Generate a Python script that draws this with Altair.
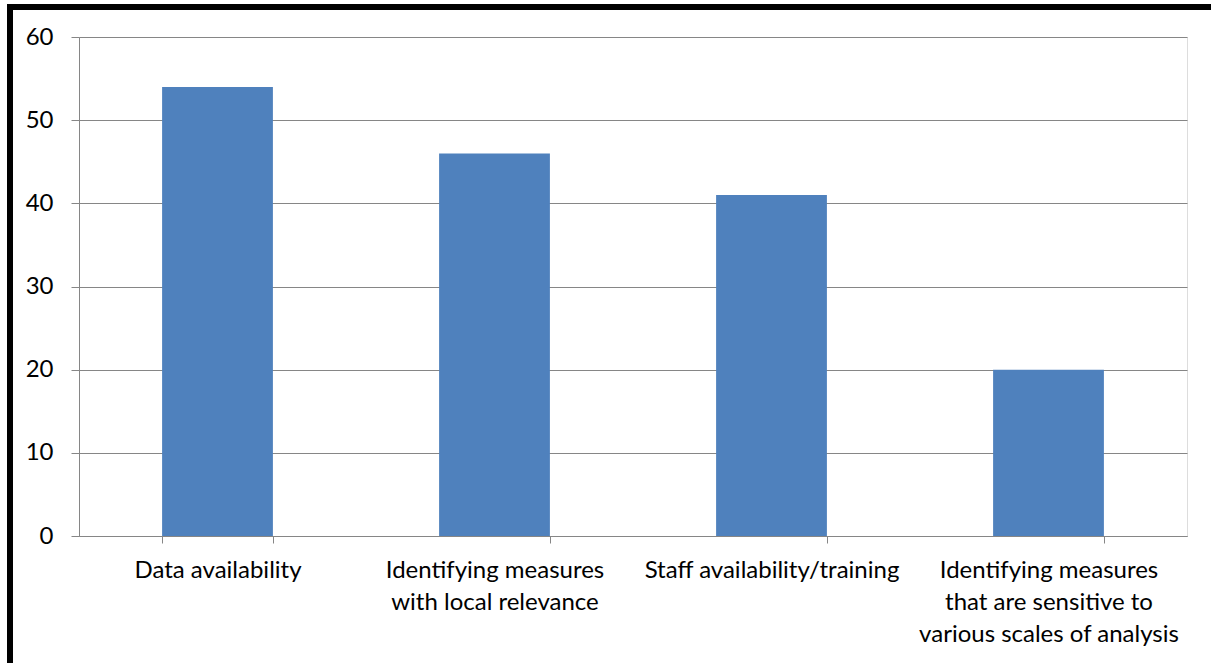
import altair as alt
import pandas as pd

categories = [
    "Data availability",
    "Identifying measures|with local relevance",
    "Staff availability/training",
    "Identifying measures|that are sensitive to|various scales of analysis",
]
values = [54, 46, 41, 20]

df = pd.DataFrame({"category": categories, "value": values})

FONT = "Lato"
SIZE = 24
GRID = "#868686"

bars = alt.Chart(df).mark_bar(color="#4F81BD").encode(
    x=alt.X(
        "category:N",
        sort=categories,
        scale=alt.Scale(paddingInner=0.6, paddingOuter=0.3),
        axis=alt.Axis(
            title=None,
            labelAngle=0,
            labelExpr="split(datum.label, '|')",
            labelFont=FONT,
            labelFontSize=SIZE,
            labelColor="black",
            labelLineHeight=32,
            labelPadding=15,
            labelBaseline="top",
            labelLimit=0,
            tickBand="extent",
            tickSize=7,
            tickColor=GRID,
            domainColor=GRID,
            grid=False,
        ),
    ),
    y=alt.Y(
        "value:Q",
        scale=alt.Scale(domain=[0, 60]),
        axis=alt.Axis(
            title=None,
            values=[0, 10, 20, 30, 40, 50, 60],
            labelFont=FONT,
            labelFontSize=SIZE,
            labelColor="black",
            labelPadding=18,
            tickSize=8,
            tickColor=GRID,
            domainColor=GRID,
            gridColor=GRID,
            gridOpacity=1,
        ),
    ),
)

# heavy frame along the top and left edges
frame_top = alt.Chart(df).mark_rule(color="black", strokeWidth=6).encode(
    x=alt.value(-72), x2=alt.value(1140), y=alt.value(-30)
)
frame_left = alt.Chart(df).mark_rule(color="black", strokeWidth=6).encode(
    x=alt.value(-69), y=alt.value(-33), y2=alt.value(640)
)

chart = alt.layer(bars, frame_top, frame_left).properties(
    width=1108,
    height=499,
    padding={"left": 79, "top": 37, "right": 24, "bottom": 127},
    autosize=alt.AutoSizeParams(type="none"),
).configure_view(stroke=None).configure(background="white")

chart.save("out.html", embed_options={"renderer": "svg", "actions": False})
